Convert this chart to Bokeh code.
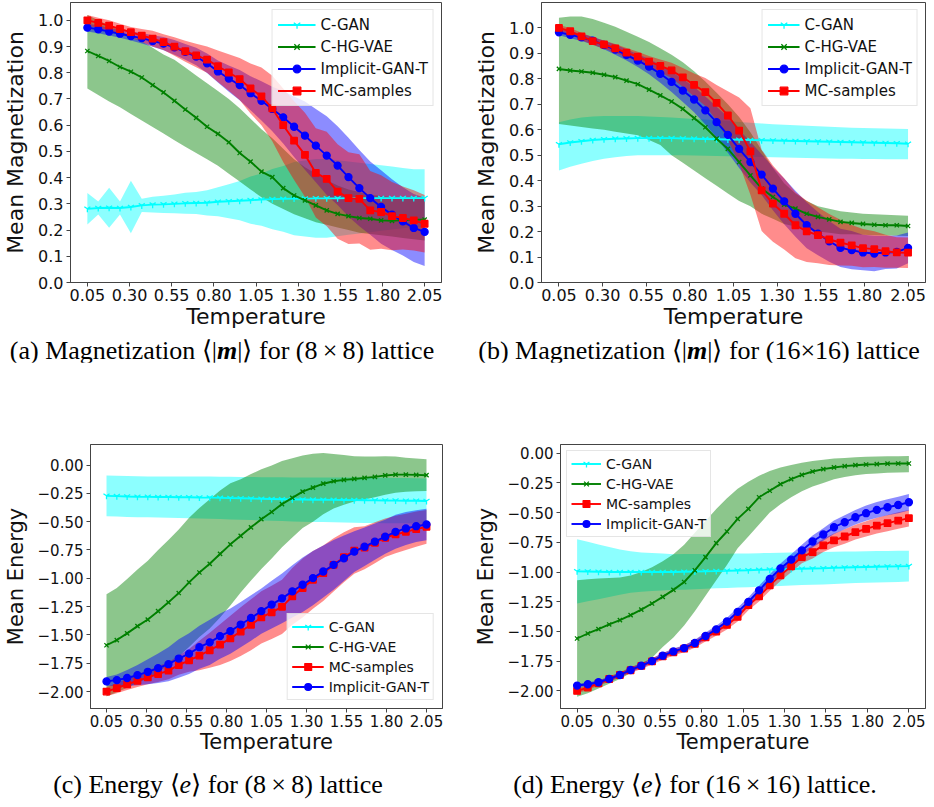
from bokeh.plotting import figure
from bokeh.models import Range1d, FixedTicker, CustomJSTickFormatter, Legend, LegendItem, Div
from bokeh.layouts import row, column
from bokeh.embed import file_html
from bokeh.resources import INLINE

# ---------------- data ----------------
temperature = [0.05, 0.1145, 0.179, 0.2435, 0.3081, 0.3726, 0.4371, 0.5016, 0.5661, 0.6306,
               0.6952, 0.7597, 0.8242, 0.8887, 0.9532, 1.0177, 1.0823, 1.1468, 1.2113, 1.2758,
               1.3403, 1.4048, 1.4694, 1.5339, 1.5984, 1.6629, 1.7274, 1.7919, 1.8565, 1.921,
               1.9855, 2.05]
x_ticks = [0.05, 0.30, 0.55, 0.80, 1.05, 1.30, 1.55, 1.80, 2.05]
mag_ticks = [0.0, 0.1, 0.2, 0.3, 0.4, 0.5, 0.6, 0.7, 0.8, 0.9, 1.0]
energy_ticks = [0.0, -0.25, -0.5, -0.75, -1.0, -1.25, -1.5, -1.75, -2.0]

# (a) magnetization 8x8
a_cgan_mean = [0.281, 0.284, 0.285, 0.284, 0.288, 0.294, 0.297, 0.298, 0.300, 0.302, 0.303, 0.304, 0.308, 0.310, 0.312, 0.314,
               0.316, 0.318, 0.319, 0.320, 0.320, 0.321, 0.321, 0.321, 0.322, 0.322, 0.322, 0.322, 0.322, 0.322, 0.322, 0.322]
a_cgan_std = [0.06, 0.025, 0.076, 0.025, 0.10, 0.025, 0.03, 0.033, 0.036, 0.04, 0.042, 0.048, 0.055, 0.065, 0.075, 0.09,
              0.10, 0.115, 0.125, 0.14, 0.145, 0.15, 0.15, 0.145, 0.14, 0.135, 0.13, 0.125, 0.12, 0.115, 0.11, 0.11]
a_vae_mean = [0.883, 0.864, 0.845, 0.822, 0.804, 0.782, 0.753, 0.725, 0.693, 0.660, 0.628, 0.594, 0.567, 0.535, 0.494, 0.461,
              0.423, 0.402, 0.360, 0.332, 0.313, 0.294, 0.275, 0.262, 0.253, 0.246, 0.243, 0.237, 0.235, 0.238, 0.240, 0.240]
a_vae_lo = [0.74, 0.715, 0.69, 0.668, 0.643, 0.618, 0.593, 0.568, 0.543, 0.518, 0.494, 0.47, 0.445, 0.415, 0.385, 0.355,
            0.325, 0.30, 0.28, 0.26, 0.245, 0.23, 0.22, 0.21, 0.20, 0.19, 0.185, 0.18, 0.175, 0.17, 0.165, 0.16]
a_vae_hi = [1.02, 1.0, 0.98, 0.96, 0.94, 0.92, 0.895, 0.87, 0.85, 0.82, 0.79, 0.76, 0.73, 0.70, 0.665, 0.625,
            0.585, 0.55, 0.51, 0.47, 0.44, 0.415, 0.39, 0.37, 0.355, 0.345, 0.335, 0.33, 0.325, 0.32, 0.32, 0.32]
a_gan_mean = [0.972, 0.966, 0.957, 0.949, 0.940, 0.932, 0.921, 0.911, 0.897, 0.880, 0.862, 0.836, 0.805, 0.778, 0.753, 0.722,
              0.693, 0.662, 0.630, 0.594, 0.560, 0.522, 0.484, 0.446, 0.402, 0.360, 0.322, 0.288, 0.259, 0.233, 0.208, 0.193]
a_gan_std = [0.015, 0.015, 0.015, 0.015, 0.017, 0.02, 0.022, 0.025, 0.028, 0.03, 0.033, 0.037, 0.042, 0.05, 0.058, 0.065,
             0.075, 0.085, 0.10, 0.115, 0.13, 0.14, 0.15, 0.15, 0.15, 0.145, 0.14, 0.14, 0.135, 0.13, 0.13, 0.13]
a_mc_mean = [1.0, 0.99, 0.98, 0.967, 0.955, 0.942, 0.93, 0.917, 0.9, 0.882, 0.866, 0.85, 0.825, 0.801, 0.776, 0.74,
             0.71, 0.664, 0.60, 0.541, 0.487, 0.418, 0.395, 0.347, 0.322, 0.319, 0.275, 0.269, 0.253, 0.246, 0.237, 0.224]
a_mc_std = [0.02, 0.02, 0.02, 0.02, 0.02, 0.025, 0.03, 0.03, 0.035, 0.04, 0.045, 0.05, 0.06, 0.07, 0.08, 0.095,
            0.11, 0.125, 0.14, 0.15, 0.16, 0.17, 0.18, 0.18, 0.175, 0.17, 0.15, 0.14, 0.13, 0.12, 0.115, 0.11]

# (b) magnetization 16x16
b_cgan_mean = [0.543, 0.55, 0.555, 0.56, 0.563, 0.565, 0.566, 0.567, 0.567, 0.567, 0.567, 0.566, 0.565, 0.564, 0.563, 0.562,
               0.561, 0.56, 0.559, 0.558, 0.557, 0.556, 0.555, 0.554, 0.553, 0.552, 0.551, 0.55, 0.549, 0.548, 0.547, 0.545]
b_cgan_lo = [0.44, 0.455, 0.467, 0.477, 0.486, 0.492, 0.497, 0.5, 0.5, 0.5, 0.5, 0.5, 0.499, 0.498, 0.497, 0.496,
             0.495, 0.494, 0.493, 0.492, 0.491, 0.49, 0.489, 0.488, 0.487, 0.486, 0.486, 0.485, 0.485, 0.484, 0.484, 0.484]
b_cgan_hi = [0.63, 0.64, 0.648, 0.652, 0.654, 0.654, 0.654, 0.654, 0.652, 0.65, 0.648, 0.645, 0.642, 0.64, 0.637, 0.634,
             0.631, 0.628, 0.625, 0.622, 0.62, 0.618, 0.616, 0.614, 0.612, 0.61, 0.608, 0.607, 0.606, 0.605, 0.604, 0.603]
b_vae_mean = [0.839, 0.833, 0.829, 0.824, 0.816, 0.807, 0.793, 0.779, 0.758, 0.735, 0.711, 0.682, 0.646, 0.61, 0.565, 0.525,
              0.473, 0.421, 0.369, 0.336, 0.306, 0.29, 0.27, 0.258, 0.248, 0.238, 0.234, 0.23, 0.227, 0.225, 0.225, 0.222]
b_vae_lo = [0.623, 0.617, 0.611, 0.605, 0.6, 0.592, 0.585, 0.578, 0.56, 0.54, 0.5, 0.47, 0.44, 0.41, 0.38, 0.35,
            0.32, 0.30, 0.27, 0.25, 0.23, 0.22, 0.21, 0.20, 0.195, 0.19, 0.19, 0.188, 0.186, 0.185, 0.184, 0.183]
b_vae_hi = [1.04, 1.045, 1.045, 1.035, 1.02, 1.005, 0.985, 0.965, 0.945, 0.92, 0.895, 0.865, 0.83, 0.79, 0.745, 0.70,
            0.65, 0.59, 0.52, 0.45, 0.39, 0.35, 0.32, 0.30, 0.29, 0.28, 0.275, 0.27, 0.268, 0.266, 0.264, 0.262]
b_gan_mean = [0.983, 0.973, 0.963, 0.95, 0.933, 0.915, 0.894, 0.872, 0.848, 0.82, 0.788, 0.754, 0.719, 0.676, 0.63, 0.58,
              0.525, 0.473, 0.424, 0.369, 0.319, 0.27, 0.225, 0.192, 0.162, 0.136, 0.127, 0.118, 0.114, 0.118, 0.12, 0.136]
b_gan_std = [0.012, 0.013, 0.014, 0.015, 0.017, 0.02, 0.022, 0.025, 0.03, 0.035, 0.04, 0.045, 0.05, 0.055, 0.06, 0.07,
             0.075, 0.08, 0.08, 0.085, 0.09, 0.09, 0.09, 0.085, 0.08, 0.075, 0.075, 0.07, 0.07, 0.065, 0.065, 0.06]
b_mc_mean = [1.0, 0.987, 0.967, 0.948, 0.935, 0.92, 0.903, 0.887, 0.868, 0.851, 0.833, 0.806, 0.776, 0.748, 0.706, 0.656,
             0.597, 0.515, 0.362, 0.31, 0.27, 0.225, 0.201, 0.186, 0.169, 0.157, 0.146, 0.135, 0.131, 0.123, 0.118, 0.117]
b_mc_std = [0.012, 0.013, 0.014, 0.015, 0.016, 0.017, 0.018, 0.02, 0.022, 0.025, 0.03, 0.037, 0.045, 0.055, 0.07, 0.095,
            0.13, 0.17, 0.16, 0.15, 0.14, 0.13, 0.12, 0.11, 0.10, 0.09, 0.08, 0.075, 0.07, 0.065, 0.06, 0.06]

# (c) energy 8x8
c_cgan_mean = [-0.272, -0.275, -0.278, -0.28, -0.281, -0.282, -0.283, -0.284, -0.285, -0.287, -0.288, -0.29, -0.292, -0.294, -0.296, -0.298,
               -0.3, -0.302, -0.304, -0.305, -0.306, -0.307, -0.308, -0.309, -0.31, -0.311, -0.312, -0.313, -0.314, -0.315, -0.316, -0.318]
c_cgan_std = [0.18, 0.18, 0.18, 0.18, 0.18, 0.181, 0.182, 0.183, 0.184, 0.185, 0.186, 0.187, 0.188, 0.189, 0.19, 0.191,
              0.192, 0.193, 0.194, 0.195, 0.196, 0.197, 0.198, 0.199, 0.2, 0.2, 0.2, 0.2, 0.2, 0.2, 0.2, 0.2]
c_vae_mean = [-1.591, -1.545, -1.486, -1.422, -1.364, -1.29, -1.212, -1.13, -1.036, -0.949, -0.872, -0.785, -0.7, -0.625, -0.55, -0.478,
              -0.415, -0.345, -0.29, -0.235, -0.2, -0.165, -0.143, -0.131, -0.123, -0.114, -0.105, -0.092, -0.085, -0.085, -0.087, -0.09]
c_vae_std = [0.45, 0.46, 0.48, 0.5, 0.52, 0.54, 0.55, 0.56, 0.57, 0.57, 0.57, 0.56, 0.54, 0.5, 0.47, 0.44,
             0.41, 0.38, 0.35, 0.32, 0.3, 0.27, 0.24, 0.22, 0.2, 0.19, 0.18, 0.17, 0.16, 0.15, 0.145, 0.14]
c_mc_mean = [-2.0, -1.97, -1.935, -1.905, -1.875, -1.845, -1.815, -1.766, -1.724, -1.682, -1.635, -1.585, -1.53, -1.47, -1.41, -1.345,
             -1.3, -1.252, -1.159, -1.086, -1.013, -0.955, -0.881, -0.814, -0.755, -0.73, -0.686, -0.642, -0.613, -0.59, -0.566, -0.546]
c_mc_std = [0.04, 0.045, 0.05, 0.055, 0.06, 0.07, 0.075, 0.085, 0.1, 0.13, 0.155, 0.18, 0.2, 0.215, 0.225, 0.23,
            0.235, 0.24, 0.25, 0.26, 0.255, 0.245, 0.235, 0.22, 0.205, 0.19, 0.18, 0.17, 0.165, 0.16, 0.155, 0.15]
c_gan_mean = [-1.91, -1.898, -1.88, -1.854, -1.825, -1.793, -1.758, -1.708, -1.665, -1.608, -1.565, -1.51, -1.466, -1.408, -1.35, -1.29,
              -1.232, -1.177, -1.115, -1.057, -0.998, -0.94, -0.881, -0.823, -0.765, -0.721, -0.677, -0.633, -0.59, -0.56, -0.54, -0.525]
c_gan_std = [0.04, 0.05, 0.07, 0.09, 0.11, 0.13, 0.15, 0.17, 0.18, 0.19, 0.2, 0.2, 0.2, 0.2, 0.2, 0.2,
             0.21, 0.22, 0.23, 0.24, 0.24, 0.23, 0.22, 0.2, 0.18, 0.17, 0.16, 0.15, 0.15, 0.145, 0.14, 0.14]

# (d) energy 16x16
d_cgan_mean = [-0.994, -0.996, -0.998, -1.0, -1.0, -1.0, -1.0, -1.0, -1.0, -1.0, -0.998, -0.996, -0.994, -0.992, -0.99, -0.987,
               -0.985, -0.982, -0.98, -0.978, -0.975, -0.972, -0.97, -0.968, -0.965, -0.962, -0.96, -0.958, -0.956, -0.954, -0.952, -0.95]
d_cgan_std = [0.27, 0.25, 0.23, 0.21, 0.19, 0.175, 0.165, 0.16, 0.155, 0.15, 0.15, 0.148, 0.146, 0.145, 0.144, 0.143,
              0.142, 0.141, 0.14, 0.14, 0.139, 0.138, 0.137, 0.136, 0.135, 0.134, 0.133, 0.132, 0.132, 0.131, 0.131, 0.13]
d_vae_mean = [-1.559, -1.517, -1.48, -1.441, -1.405, -1.363, -1.316, -1.265, -1.209, -1.15, -1.084, -0.986, -0.874, -0.757, -0.659, -0.553,
              -0.469, -0.371, -0.316, -0.26, -0.218, -0.182, -0.154, -0.134, -0.12, -0.109, -0.101, -0.095, -0.092, -0.088, -0.087, -0.087]
d_vae_lo = [-2.05, -2.02, -1.98, -1.94, -1.9, -1.85, -1.79, -1.72, -1.63, -1.55, -1.45, -1.33, -1.2, -1.07, -0.94, -0.8,
            -0.7, -0.6, -0.5, -0.43, -0.37, -0.32, -0.28, -0.25, -0.22, -0.2, -0.185, -0.175, -0.17, -0.165, -0.162, -0.16]
d_vae_hi = [-1.07, -1.06, -1.055, -1.05, -1.045, -1.03, -1.0, -0.96, -0.91, -0.85, -0.77, -0.67, -0.57, -0.47, -0.38, -0.3,
            -0.24, -0.19, -0.15, -0.12, -0.1, -0.08, -0.065, -0.055, -0.045, -0.04, -0.035, -0.03, -0.028, -0.026, -0.025, -0.024]
d_mc_mean = [-2.0, -1.972, -1.936, -1.9, -1.866, -1.826, -1.79, -1.752, -1.71, -1.675, -1.645, -1.605, -1.55, -1.5, -1.445, -1.377,
             -1.279, -1.204, -1.112, -1.028, -0.952, -0.874, -0.832, -0.776, -0.734, -0.701, -0.665, -0.637, -0.609, -0.589, -0.567, -0.547]
d_mc_std = [0.02, 0.02, 0.021, 0.022, 0.023, 0.024, 0.025, 0.026, 0.027, 0.028, 0.03, 0.032, 0.034, 0.036, 0.038, 0.04,
            0.042, 0.044, 0.046, 0.048, 0.05, 0.052, 0.054, 0.056, 0.058, 0.06, 0.062, 0.064, 0.066, 0.068, 0.069, 0.07]
d_gan_mean = [-1.955, -1.944, -1.927, -1.899, -1.866, -1.824, -1.788, -1.749, -1.704, -1.668, -1.64, -1.597, -1.538, -1.482, -1.416, -1.335,
              -1.251, -1.154, -1.058, -0.97, -0.896, -0.818, -0.743, -0.684, -0.623, -0.581, -0.539, -0.505, -0.477, -0.455, -0.436, -0.413]
d_gan_std = [0.015, 0.015, 0.016, 0.017, 0.018, 0.019, 0.02, 0.021, 0.022, 0.024, 0.025, 0.027, 0.029, 0.03, 0.032, 0.034,
             0.036, 0.038, 0.04, 0.042, 0.045, 0.048, 0.05, 0.053, 0.056, 0.059, 0.062, 0.064, 0.066, 0.068, 0.069, 0.07]

COLORS = {"C-GAN": "#00ffff", "C-HG-VAE": "#008000", "Implicit-GAN-T": "#0000ff", "MC-samples": "#ff0000"}
MARKERS = {"C-GAN": ("y", 7), "C-HG-VAE": ("x", 6), "Implicit-GAN-T": ("circle", 7), "MC-samples": ("square", 6.5)}
FRAME = "#444444"


def band(mean, std=None, lo=None, hi=None):
    if std is not None:
        lo = [m - s for m, s in zip(mean, std)]
        hi = [m + s for m, s in zip(mean, std)]
    return mean, lo, hi


def build_panel(series, order, w, h, borders, yr, yticks, ydec, ylabel, loc, lmargin,
                tick_fs, label_fs, leg_fs, glyph_w, leg_h, leg_pad):
    bl, br, bt, bb = borders
    p = figure(width=w, height=h, x_range=Range1d(-0.05, 2.15), y_range=Range1d(*yr),
               output_backend="svg", toolbar_location=None,
               min_border_left=bl, min_border_right=br, min_border_top=bt, min_border_bottom=bb)
    p.xgrid.visible = False
    p.ygrid.visible = False
    p.outline_line_color = FRAME
    p.outline_line_width = 1
    p.background_fill_color = "white"
    p.border_fill_color = "white"

    p.xaxis.ticker = FixedTicker(ticks=x_ticks)
    p.yaxis.ticker = FixedTicker(ticks=yticks)
    p.xaxis.formatter = CustomJSTickFormatter(code="return tick.toFixed(2);")
    p.yaxis.formatter = CustomJSTickFormatter(
        code="return tick.toFixed(%d).replace('-', '\u2212');" % ydec)
    p.xaxis.axis_label = "Temperature"
    p.yaxis.axis_label = ylabel
    for ax in (p.xaxis[0], p.yaxis[0]):
        ax.axis_line_color = FRAME
        ax.major_tick_line_color = FRAME
        ax.major_tick_out = 4
        ax.major_tick_in = 0
        ax.minor_tick_out = 0
        ax.minor_tick_in = 0
        ax.major_label_text_font = "DejaVu Sans"
        ax.major_label_text_font_size = tick_fs
        ax.major_label_text_color = "#111111"
        ax.major_label_standoff = 3
        ax.axis_label_text_font = "DejaVu Sans"
        ax.axis_label_text_font_size = label_fs
        ax.axis_label_text_font_style = "normal"
        ax.axis_label_text_color = "#111111"
    p.xaxis.major_label_standoff = 2
    p.xaxis.axis_label_standoff = 0
    p.yaxis.axis_label_standoff = 7

    for name in order:
        _, lo, hi = series[name]
        p.varea(x=temperature, y1=lo, y2=hi, fill_color=COLORS[name], fill_alpha=0.45)

    items = []
    for name in order:
        mean = series[name][0]
        col = COLORS[name]
        mk, sz = MARKERS[name]
        ln = p.line(temperature, mean, line_color=col, line_width=1.9)
        sc = p.scatter(temperature, mean, marker=mk, size=sz, fill_color=col,
                       line_color=col, line_width=1.3)
        items.append(LegendItem(label=name, renderers=[ln, sc]))

    legend = Legend(items=items, location=loc, margin=lmargin,
                    label_text_font="DejaVu Sans", label_text_font_size=leg_fs,
                    label_text_color="#111111",
                    glyph_width=glyph_w, glyph_height=leg_h, label_height=leg_h,
                    spacing=3, padding=leg_pad, label_standoff=5,
                    border_line_color="#cccccc", border_line_width=1,
                    background_fill_color="white", background_fill_alpha=0.8)
    p.add_layout(legend)
    return p


order_mag = ["C-GAN", "C-HG-VAE", "Implicit-GAN-T", "MC-samples"]
order_en = ["C-GAN", "C-HG-VAE", "MC-samples", "Implicit-GAN-T"]

series_a = {"C-GAN": band(a_cgan_mean, std=a_cgan_std),
            "C-HG-VAE": band(a_vae_mean, lo=a_vae_lo, hi=a_vae_hi),
            "Implicit-GAN-T": band(a_gan_mean, std=a_gan_std),
            "MC-samples": band(a_mc_mean, std=a_mc_std)}
series_b = {"C-GAN": band(b_cgan_mean, lo=b_cgan_lo, hi=b_cgan_hi),
            "C-HG-VAE": band(b_vae_mean, lo=b_vae_lo, hi=b_vae_hi),
            "Implicit-GAN-T": band(b_gan_mean, std=b_gan_std),
            "MC-samples": band(b_mc_mean, std=b_mc_std)}
series_c = {"C-GAN": band(c_cgan_mean, std=c_cgan_std),
            "C-HG-VAE": band(c_vae_mean, std=c_vae_std),
            "Implicit-GAN-T": band(c_gan_mean, std=c_gan_std),
            "MC-samples": band(c_mc_mean, std=c_mc_std)}
series_d = {"C-GAN": band(d_cgan_mean, std=d_cgan_std),
            "C-HG-VAE": band(d_vae_mean, lo=d_vae_lo, hi=d_vae_hi),
            "Implicit-GAN-T": band(d_gan_mean, std=d_gan_std),
            "MC-samples": band(d_mc_mean, std=d_mc_std)}

# layout: row1 338 + captions 24 + row2 399 + captions 24 = 785 tall
pa = build_panel(series_a, order_mag, 462, 338, (64, 21, 1, 56), (0.0, 1.068), mag_ticks, 1,
                 "Mean Magnetization", "top_right", 7, "16px", "22px", "15px", 38, 19, 5)
pb = build_panel(series_b, order_mag, 464, 338, (79, 1, 2, 53), (0.0, 1.1), mag_ticks, 1,
                 "Mean Magnetization", "top_right", 7, "16px", "22px", "15px", 32, 19, 5)
pc = build_panel(series_c, order_en, 462, 399, (84, 20, 77, 53), (-2.149, 0.181), energy_ticks, 2,
                 "Mean Energy", "bottom_right", 8, "15px", "21px", "14px", 32, 17, 4)
pd_ = build_panel(series_d, order_en, 464, 399, (98, 1, 82, 49), (-2.148, 0.073), energy_ticks, 2,
                  "Mean Energy", "top_left", 6, "15px", "21px", "14px", 30, 17, 4)

CAP_STYLE = ("position:relative;left:%dpx;top:%dpx;width:%dpx;text-align:center;white-space:nowrap;"
             "font-family:'Liberation Serif',serif;font-size:26px;line-height:%dpx;color:#000;")


def caption(html, width, height, shift, top, lh):
    return Div(text='<div style="%s">%s</div>' % (CAP_STYLE % (shift, top, width, lh), html),
               width=width, height=height, margin=(0, 0, 0, 0))


cap_a = caption("(a) Magnetization \u27e8|<b><i>m</i></b>|\u27e9 for (8&thinsp;\u00d7&thinsp;8) lattice", 462, 24, -9, 2, 22)
cap_b = caption("(b) Magnetization \u27e8|<b><i>m</i></b>|\u27e9 for (16\u00d716) lattice", 456, 24, 9, 2, 22)
cap_c = caption("(c) Energy \u27e8<i>e</i>\u27e9 for (8&thinsp;\u00d7&thinsp;8) lattice", 462, 24, -13, 20, 4)
cap_d = caption("(d) Energy \u27e8<i>e</i>\u27e9 for (16&thinsp;\u00d7&thinsp;16) lattice.", 456, 24, 5, 20, 4)

layout = column(row(pa, pb), row(cap_a, cap_b), row(pc, pd_), row(cap_c, cap_d))

open("out.html", "w").write(file_html(layout, INLINE))
